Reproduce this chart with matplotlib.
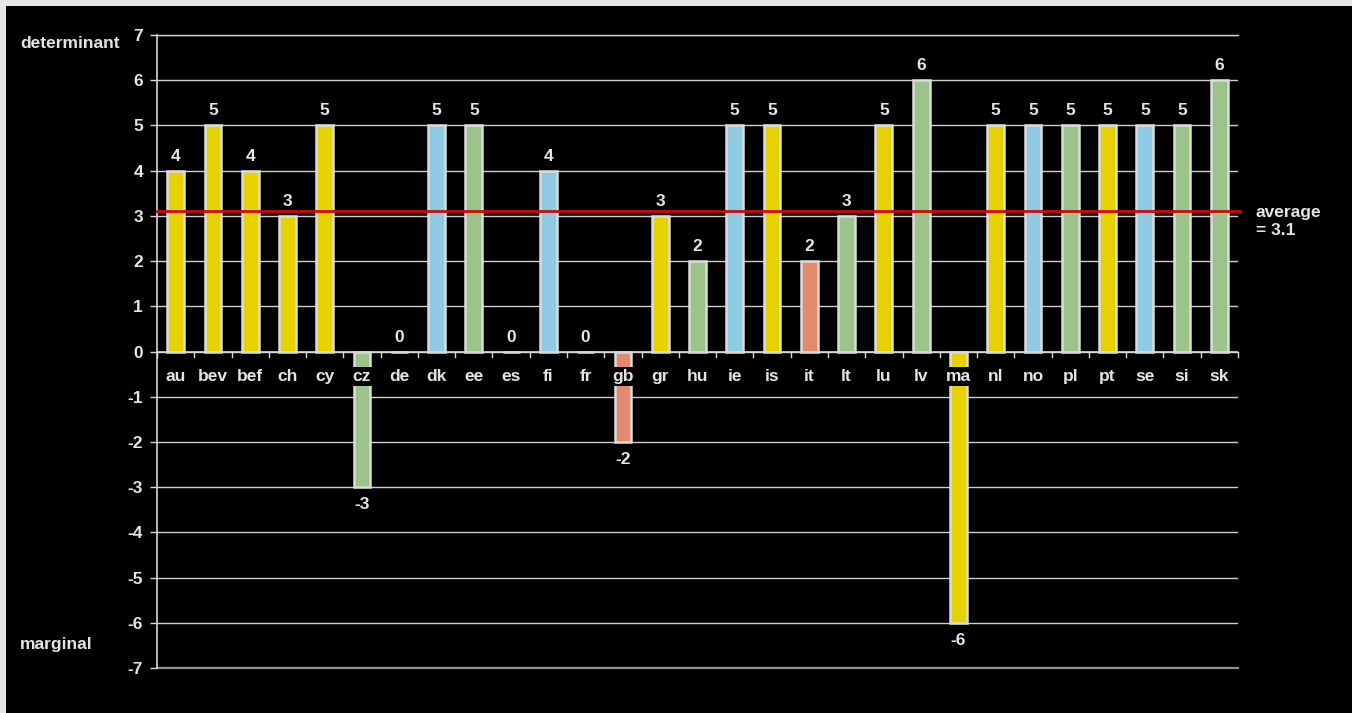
import numpy as np
import matplotlib.pyplot as plt
from matplotlib.patches import Rectangle

plt.rcParams['font.family'] = ['Liberation Sans', 'DejaVu Sans']
plt.rcParams['axes.unicode_minus'] = False

# ----------------- data ------------------------------------------------------
countries = ["au", "bev", "bef", "ch", "cy", "cz", "de", "dk", "ee", "es",
             "fi", "fr", "gb", "gr", "hu", "ie", "is", "it", "lt", "lu",
             "lv", "ma", "nl", "no", "pl", "pt", "se", "si", "sk"]
scores = [4, 5, 4, 3, 5, -3, 0, 5, 5, 0,
          4, 0, -2, 3, 2, 5, 5, 2, 3, 5,
          6, -6, 5, 5, 5, 5, 5, 5, 6]
groups = ["y", "y", "y", "y", "y", "g", "g", "b", "g", "b",
          "b", "b", "r", "y", "g", "b", "y", "r", "g", "y",
          "g", "y", "y", "b", "g", "y", "b", "g", "g"]
average = 3.1

PALETTE = {"y": "#e6d200", "g": "#9bc38a", "b": "#8ecae2", "r": "#e38a6e"}
FG = "#e4e4e4"
FS = 12.5

# ----------------- figure ----------------------------------------------------
fig = plt.figure(figsize=(13.52, 7.13), dpi=100, facecolor="#e6e6e6")
fig.patches.append(Rectangle((6 / 1352, 0), 1, 1 - 6 / 713, transform=fig.transFigure,
                             facecolor="black", edgecolor="none", zorder=-10))
ax = fig.add_axes([157 / 1352, 1 - 668 / 713, (1238 - 157) / 1352, (668 - 35) / 713])
ax.set_facecolor("black")

x = np.arange(len(countries))
colors = [PALETTE[g] for g in groups]
bars = ax.bar(x, scores, width=0.45, color=colors, edgecolor="#dcdcdc",
              linewidth=1.8, zorder=3)

# value labels above / below each bar
for xi, v in zip(x, scores):
    if v >= 0:
        ax.annotate(f"{v}", xy=(xi, v), xytext=(0, 5), textcoords="offset points",
                    ha="center", va="bottom", color=FG, fontsize=FS,
                    fontweight="bold")
    else:
        ax.annotate(f"{v}", xy=(xi, v), xytext=(0, -7), textcoords="offset points",
                    ha="center", va="top", color=FG, fontsize=FS,
                    fontweight="bold")

# country names sit just under the zero line, on a black patch
for xi, name in zip(x, countries):
    ax.annotate(name, xy=(xi, 0), xytext=(0, -18), textcoords="offset points",
                ha="center", va="center", color=FG, fontsize=FS, fontweight="bold",
                zorder=5,
                bbox=dict(boxstyle="square,pad=0.1", facecolor="black",
                          edgecolor="none"))

# zero axis with small ticks between categories
ax.axhline(0, color="#d8d8d8", linewidth=1.2, zorder=4)
for b in np.arange(len(countries) + 1) - 0.5:
    ax.plot([b, b], [0, -0.12], color="#d8d8d8", linewidth=1.0, zorder=4,
            clip_on=False)

# average line
ax.plot([-0.5, len(countries) - 0.45], [average, average], color="#cc0a0a",
        linewidth=2.0, zorder=4, clip_on=False)
ax.text(1.0165, 0.7046, f"average\n= {average}", transform=ax.transAxes,
        ha="left", va="center", color=FG, fontsize=FS, fontweight="bold",
        linespacing=1.25)

ax.set_xlim(-0.5, len(countries) - 0.5)
ax.set_ylim(-7, 7)
ax.set_yticks(range(-7, 8))
ax.set_xticks([])
ax.grid(True, axis="y", color="#cfcfcf", linewidth=1.0, zorder=0)
# outer gridlines drawn unclipped so they keep full width at the limits
ax.axhline(7, color="#cfcfcf", linewidth=1.0, zorder=0, clip_on=False)
ax.axhline(-7, color="#8a8a8a", linewidth=1.6, zorder=0, clip_on=False)
ax.tick_params(axis="y", colors="#d8d8d8", labelcolor=FG, length=5, width=1,
               labelsize=FS, pad=5)
for lab in ax.get_yticklabels():
    lab.set_fontweight("bold")
for side in ["top", "right", "bottom"]:
    ax.spines[side].set_visible(False)
ax.spines["left"].set_color("#d8d8d8")
ax.spines["left"].set_linewidth(1.2)

fig.text(20 / 1352, 1 - 43 / 713, "determinant", ha="left", va="center", color=FG,
         fontsize=FS, fontweight="bold")
fig.text(20 / 1352, 1 - 644 / 713, "marginal", ha="left", va="center", color=FG,
         fontsize=FS, fontweight="bold")

fig.savefig("out.png", dpi=100, facecolor=fig.get_facecolor())
